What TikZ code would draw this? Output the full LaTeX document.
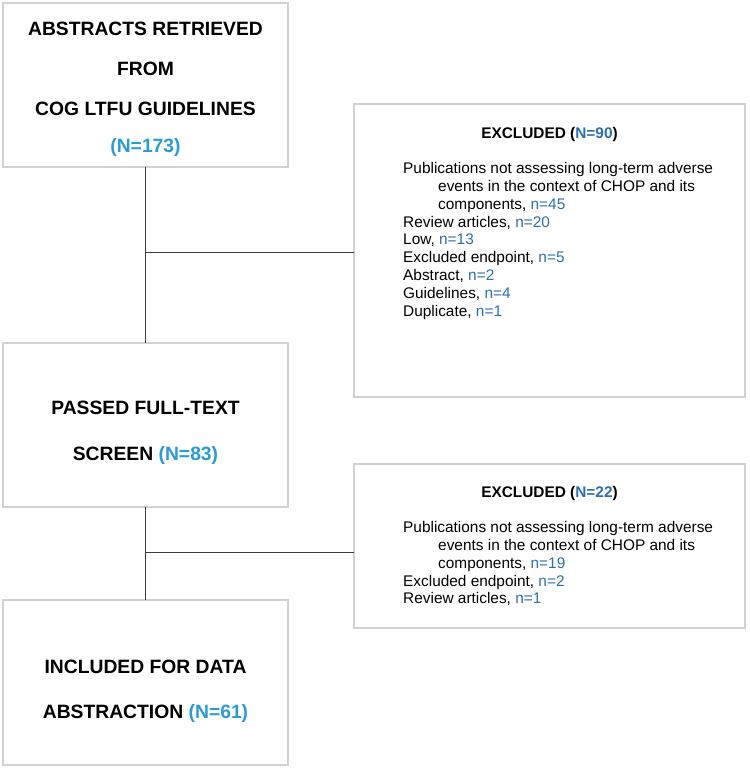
\documentclass[tikz,border=0pt]{standalone}
\usepackage{fontspec}
\setmainfont{Liberation Sans}
\usetikzlibrary{positioning}

\definecolor{boxgrey}{HTML}{D4D0CE}
\definecolor{linegrey}{HTML}{3C3C3C}
\definecolor{nblue}{HTML}{2C9AD5}
\definecolor{xblue}{HTML}{2D6FAE}
\newcommand{\bigN}[1]{\textcolor{nblue}{#1}}
\newcommand{\smallN}[1]{\textcolor{xblue}{#1}}
\newcommand{\cont}{\hspace*{35pt}}
\newcommand{\boxstrut}[1]{\rule{0pt}{#1}}

\begin{document}
\begin{tikzpicture}[x=1pt,y=-1pt,
    stage/.style={draw=boxgrey,line width=2pt,outer sep=0pt,minimum width=285pt,minimum height=164pt,
                  align=center,font=\fontsize{19.3}{40}\selectfont\bfseries},
    exbox/.style={draw=boxgrey,line width=2pt,outer sep=0pt,minimum width=391pt},
    exhead/.style={inner sep=0pt,font=\fontsize{15.4}{17.8}\selectfont\bfseries},
    exlist/.style={inner sep=0pt,align=left,font=\fontsize{15.4}{17.8}\selectfont},
    link/.style={draw=linegrey,line width=1pt}]

\useasboundingbox[fill=white] (0,0) rectangle (750,769);

            \node[stage] (s1) at (145.5,85) {\boxstrut{22.6pt}ABSTRACTS RETRIEVED\\FROM\\COG LTFU GUIDELINES\\[-3pt]\bigN{(N=173)}};

            \node[stage] (s2) [below=176pt of s1] {\boxstrut{28pt}PASSED FULL-TEXT\\[6pt]SCREEN \bigN{(N=83)}};

            \node[stage,minimum height=165pt] (s3) [below=93pt of s2] {\boxstrut{30pt}INCLUDED FOR DATA\\[5pt]ABSTRACTION \bigN{(N=61)}};

            \node[exbox,minimum height=293pt] (x1) [below right=101pt and 66pt of s1.north east] {};

            \node[exbox,minimum height=164pt] (x2) [below=67pt of x1] {};

            \node[exhead] (h1) [below=23pt of x1.north] {EXCLUDED (\smallN{N=90})};

            \node[exlist] (l1) [below right=58.3pt and 49pt of x1.north west] {Publications not assessing long-term adverse\\
              \cont events in the context of CHOP and its\\
              \cont components, \smallN{n=45}\\
              Review articles, \smallN{n=20}\\
              Low, \smallN{n=13}\\
              Excluded endpoint, \smallN{n=5}\\
              Abstract, \smallN{n=2}\\
              Guidelines, \smallN{n=4}\\
              Duplicate, \smallN{n=1}};

            \node[exhead] (h2) [below=22pt of x2.north] {EXCLUDED (\smallN{N=22})};

            \node[exlist] (l2) [below right=57.3pt and 49pt of x2.north west] {Publications not assessing long-term adverse\\
              \cont events in the context of CHOP and its\\
              \cont components, \smallN{n=19}\\
              Excluded endpoint, \smallN{n=2}\\
              Review articles, \smallN{n=1}};

            \coordinate (j1) at (145.5,252);
            \coordinate (j2) at (145.5,552);

            \foreach \from/\to in {s1/s2, s2/s3}
	   {
                \path[link] (\from) -- (\to);
              }
            \foreach \from/\to in {j1/x1, j2/x2}
	   {
                \path[link] (\from) -- (\from -| \to.west);
              }

        \end{tikzpicture}
\end{document}
